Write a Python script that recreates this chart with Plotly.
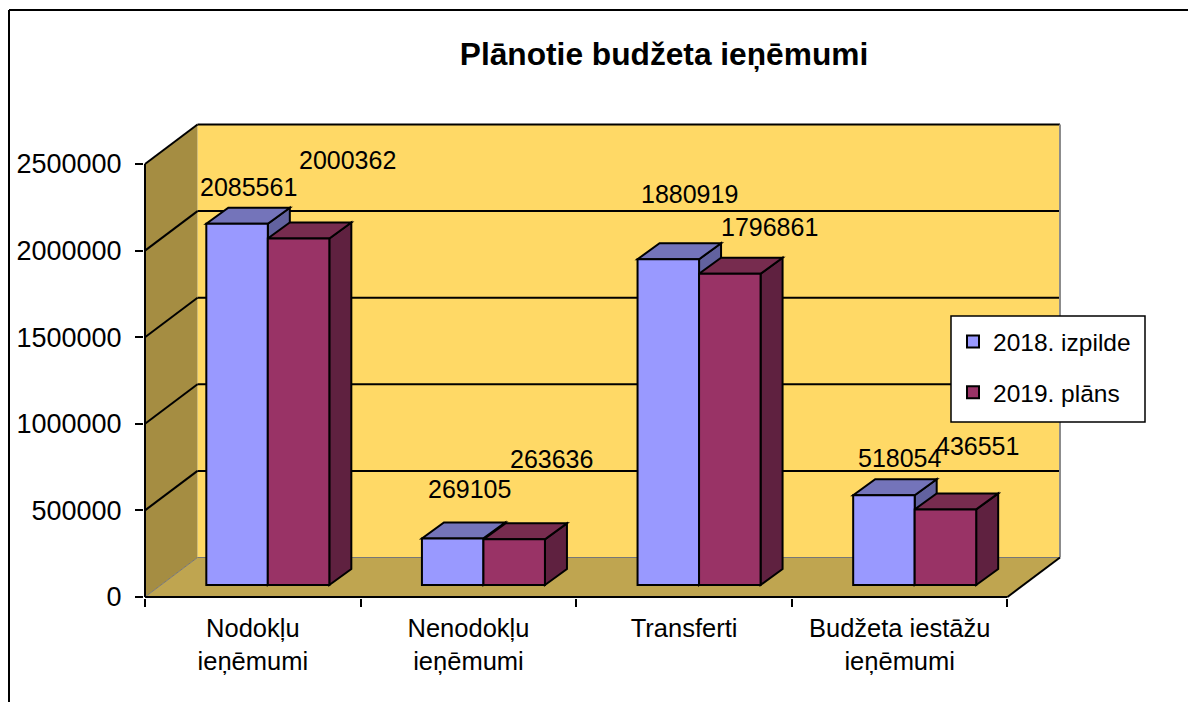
import plotly.graph_objects as go

categories = ["Nodokļu<br>ieņēmumi", "Nenodokļu<br>ieņēmumi", "Transferti", "Budžeta iestāžu<br>ieņēmumi"]
series_names = ["2018. izpilde", "2019. plāns"]
values_2018 = [2085561, 269105, 1880919, 518054]
values_2019 = [2000362, 263636, 1796861, 436551]
y_ticks = [0, 500000, 1000000, 1500000, 2000000, 2500000]
title_text = "Plānotie budžeta ieņēmumi"

# pixel offset of each value label from the top-centre of its bar
label_dx_2018 = [11, 17, 21, 16]
label_dy_2018 = [37, 49, 65, 37]
label_dx_2019 = [49, 37, 40, 32]
label_dy_2019 = [79, 80, 47, 63]

FONT = "Liberation Sans"
W, H = 1188, 702
ML, MR, MT, MB = 144, 126, 123, 104
X_PX = 215.6            # pixels per category
Y_PX = 433 / 2500000    # pixels per value unit
n = len(categories)
ymax = 2500000


def dx(p):
    return p / X_PX


def dy(p):
    return p / Y_PX


def px(p):
    return (p - ML) / (W - ML - MR)


def py(p):
    return 1 - (p - MT) / (H - MT - MB)


WALL_X, WALL_Y = dx(52.5), dy(39.5)
BAR_SHIFT_X, BAR_BASE = dx(61.3), dy(12)
BAR_W = dx(61.5)
BAR_DX, BAR_DY = dx(22), dy(16)

shapes = []


def poly(pts, fill, line_color=None, line_width=0, layer="below"):
    path = "M" + " L".join(f"{x},{y}" for x, y in pts) + " Z"
    shapes.append(dict(type="path", path=path, xref="x", yref="y", layer=layer, fillcolor=fill,
                       line=dict(color=line_color or fill, width=line_width)))


def seg(x0, y0, x1, y1, color="black", width=2, layer="below"):
    shapes.append(dict(type="line", x0=x0, y0=y0, x1=x1, y1=y1, xref="x", yref="y", layer=layer,
                       line=dict(color=color, width=width)))


# walls and floor
poly([(WALL_X, WALL_Y), (n + WALL_X, WALL_Y), (n + WALL_X, ymax + WALL_Y), (WALL_X, ymax + WALL_Y)], "#FFD966")
poly([(0, 0), (WALL_X, WALL_Y), (WALL_X, ymax + WALL_Y), (0, ymax)], "#A58D42")
poly([(0, 0), (n, 0), (n + WALL_X, WALL_Y), (WALL_X, WALL_Y)], "#BFA550")

# grid
for t in y_ticks[1:]:
    seg(0, t, WALL_X, t + WALL_Y)
    seg(WALL_X, t + WALL_Y, n + WALL_X, t + WALL_Y)
seg(0, 0, WALL_X, WALL_Y, "#777777", 1)
seg(WALL_X, WALL_Y, n + WALL_X, WALL_Y, "#777777", 1)
seg(n + WALL_X, WALL_Y, n + WALL_X, ymax + WALL_Y, "#8C8C8C", 2)
seg(0, 0, 0, ymax)
seg(0, 0, n, 0)
seg(n, 0, n + WALL_X, WALL_Y)

# bar sides and tops, from the values
for i in range(n):
    for j, (vals, top, side) in enumerate(((values_2018, "#7474BA", "#62629F"),
                                          (values_2019, "#772C4F", "#5F2140"))):
        x0 = i + BAR_SHIFT_X + j * BAR_W
        x1 = x0 + BAR_W
        y0 = BAR_BASE
        y1 = BAR_BASE + vals[i]
        poly([(x1, y0), (x1 + BAR_DX, y0 + BAR_DY), (x1 + BAR_DX, y1 + BAR_DY), (x1, y1)], side, "black", 2)
        poly([(x0, y1), (x1, y1), (x1 + BAR_DX, y1 + BAR_DY), (x0 + BAR_DX, y1 + BAR_DY)], top, "black", 2)

# outer frame
for a in ((px(9), py(10), px(9), py(702)), (px(9), py(10), px(1188), py(10))):
    shapes.append(dict(type="line", x0=a[0], y0=a[1], x1=a[2], y1=a[3], xref="paper", yref="paper",
                       line=dict(color="black", width=2), layer="above"))
# legend box
shapes.append(dict(type="rect", x0=px(951), y0=py(316), x1=px(1145), y1=py(422), xref="paper", yref="paper",
                   fillcolor="white", line=dict(color="black", width=1.5), layer="above"))

fig = go.Figure()
annotations = []
for j, (name, vals, color, ldx, ldy) in enumerate((
        (series_names[0], values_2018, "#9999FF", label_dx_2018, label_dy_2018),
        (series_names[1], values_2019, "#993366", label_dx_2019, label_dy_2019))):
    xs = [i + BAR_SHIFT_X + j * BAR_W + BAR_W / 2 for i in range(n)]
    fig.add_trace(go.Bar(x=xs, y=vals, base=[BAR_BASE] * n, width=[BAR_W] * n, name=name,
                         legendgroup=name, marker=dict(color=color, line=dict(color="black", width=2)),
                         hoverinfo="y"))
    for i in range(n):
        annotations.append(dict(x=xs[i], y=BAR_BASE + vals[i], xref="x", yref="y", text=str(vals[i]),
                                showarrow=False, xanchor="center", yanchor="middle",
                                xshift=ldx[i], yshift=ldy[i], font=dict(family=FONT, size=25, color="black")))

fig.update_layout(
    width=W, height=H, autosize=False,
    margin=dict(l=ML, r=MR, t=MT, b=MB, pad=0),
    paper_bgcolor="white", plot_bgcolor="white",
    barmode="overlay", shapes=shapes, annotations=annotations,
    font=dict(family=FONT, color="black"),
    title=dict(text=title_text, x=664 / W, y=1 - 54 / H, xref="container", yref="container",
               xanchor="center", yanchor="middle", font=dict(family=FONT, size=31.7, color="black", weight="bold")),
    legend=dict(x=px(953), y=py(319), xanchor="left", yanchor="top", bgcolor="rgba(0,0,0,0)", borderwidth=0,
                font=dict(family=FONT, size=24.5, color="black"), tracegroupgap=16, traceorder="grouped",
                itemclick=False, itemdoubleclick=False),
    xaxis=dict(range=[-dx(1), n + WALL_X + dx(2)], tickmode="array", tickvals=[i + 0.5 for i in range(n)],
               ticktext=categories, ticks="", showgrid=False, zeroline=False, showline=False,
               tickfont=dict(family=FONT, size=25.5, color="black"), ticklabelstandoff=12,
               minor=dict(tickmode="array", tickvals=list(range(n + 1)), ticks="outside", ticklen=8,
                          tickwidth=1.5, tickcolor="black", showgrid=False)),
    yaxis=dict(range=[-dy(1), dy(474)], tickmode="array", tickvals=y_ticks, ticktext=[str(t) for t in y_ticks],
               ticks="outside", ticklen=8, tickwidth=1.5, tickcolor="black", showgrid=False, zeroline=False,
               showline=False, tickfont=dict(family=FONT, size=27, color="black"), ticklabelstandoff=8),
)

fig.write_html("out.html", config=dict(displayModeBar=False),
               post_script="document.body.style.margin='0';document.body.style.overflow='hidden';")
